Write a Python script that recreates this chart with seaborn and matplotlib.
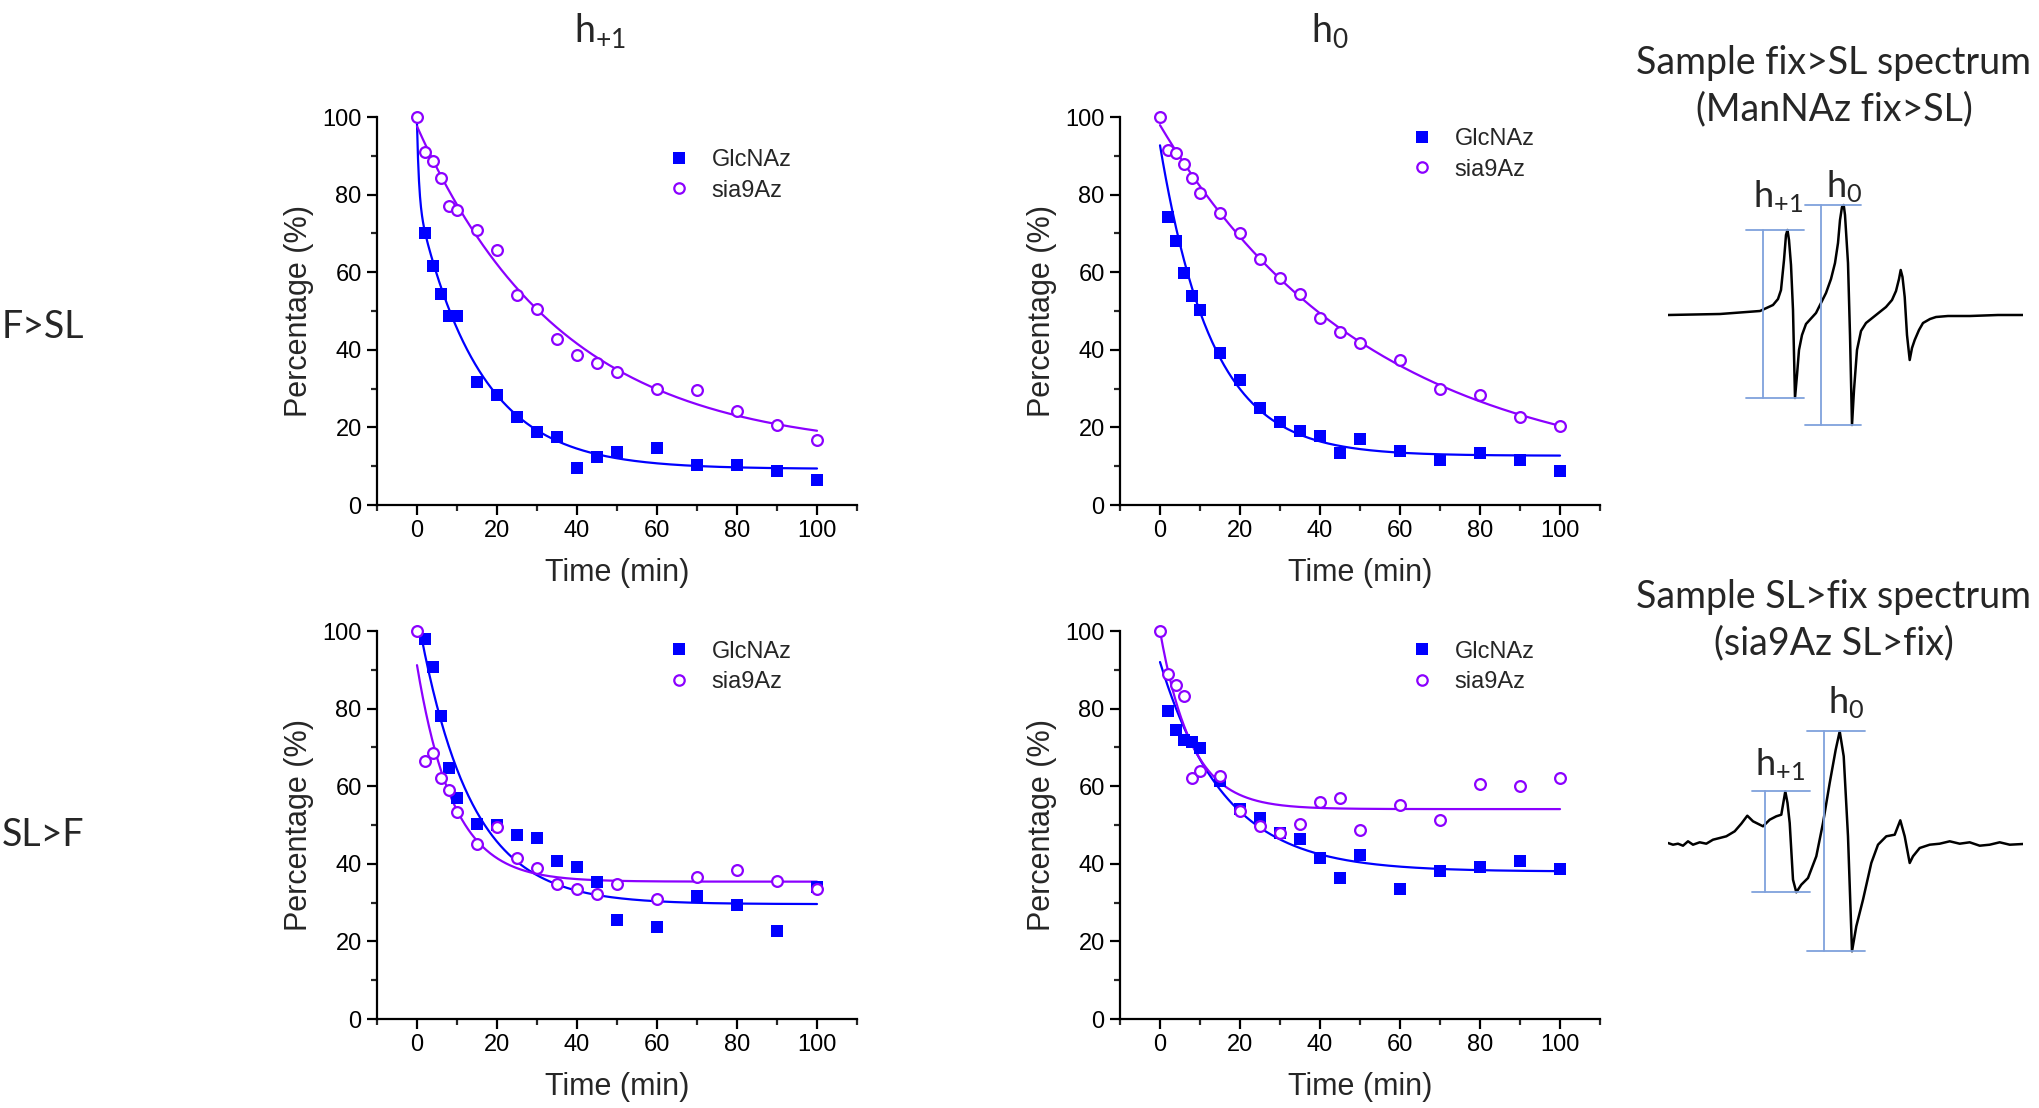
import numpy as np
import matplotlib
matplotlib.use("Agg")
import matplotlib.pyplot as plt
import seaborn as sns
from matplotlib.ticker import MultipleLocator
from matplotlib.lines import Line2D

# ==========================================
# DATA
# ==========================================
t_glc = [2, 4, 6, 8, 10, 15, 20, 25, 30, 35, 40, 45, 50, 60, 70, 80, 90, 100]
t_sia = [0, 2, 4, 6, 8, 10, 15, 20, 25, 30, 35, 40, 45, 50, 60, 70, 80, 90, 100]

# F>SL, h+1
fsl_h1_glc = [70.0, 61.7, 54.4, 48.8, 48.8, 31.8, 28.3, 22.8, 18.8, 17.4, 9.6, 12.4, 13.6, 14.7, 10.4, 10.2, 8.7, 6.5]
fsl_h1_sia = [100, 91.0, 88.7, 84.4, 77.1, 76.1, 70.9, 65.6, 54.0, 50.4, 42.8, 38.6, 36.7, 34.3, 29.8, 29.6, 24.2, 20.6, 16.8]
# F>SL, h0
fsl_h0_glc = [74.3, 68.1, 59.9, 53.8, 50.3, 39.1, 32.1, 25.0, 21.3, 19.0, 17.7, 13.4, 17.0, 13.8, 11.6, 13.4, 11.6, 8.7]
fsl_h0_sia = [100, 91.4, 90.6, 88.0, 84.3, 80.3, 75.2, 70.2, 63.4, 58.5, 54.4, 48.2, 44.5, 41.8, 37.3, 29.9, 28.3, 22.7, 20.3]
# SL>F, h+1
slf_h1_glc = [98.0, 90.6, 78.0, 64.6, 57.0, 50.2, 50.0, 47.4, 46.7, 40.6, 39.3, 35.2, 25.6, 23.8, 31.7, 29.4, 22.6, 34.1]
slf_h1_sia = [100, 66.6, 68.6, 62.0, 59.0, 53.3, 45.2, 49.5, 41.4, 38.9, 34.7, 33.5, 32.2, 34.8, 31.0, 36.7, 38.5, 35.6, 33.4]
# SL>F, h0
slf_h0_glc = [79.5, 74.5, 71.9, 71.4, 69.8, 61.4, 54.1, 51.9, 48.0, 46.3, 41.6, 36.3, 42.3, 33.4, 38.2, 39.1, 40.8, 38.6]
slf_h0_sia = [100, 88.8, 86.0, 83.2, 62.2, 63.9, 62.7, 53.6, 49.7, 48.0, 50.2, 56.0, 56.9, 48.7, 55.1, 51.2, 60.5, 60.1, 62.1]

# exponential decay fits: (plateau, A1, tau1, A2, tau2, start)
fit_fsl_h1_glc = (9.3, 69.0, 15.5, 20.0, 0.5, 0)
fit_fsl_h1_sia = (13.85, 83.75, 36.2, 0.0, 1.0, 0)
fit_fsl_h0_glc = (12.7, 80.0, 13.0, 0.0, 1.0, 0)
fit_fsl_h0_sia = (6.8, 91.1, 52.6, 0.0, 1.0, 0)
fit_slf_h1_glc = (29.6, 75.0, 13.0, 0.0, 1.0, 1)
fit_slf_h1_sia = (35.4, 55.8, 9.0, 0.0, 1.0, 0)
fit_slf_h0_glc = (38.0, 54.0, 16.0, 0.0, 1.0, 0)
fit_slf_h0_sia = (54.1, 45.9, 7.9, 0.0, 1.0, 0)

# sample spectra (field, intensity; arbitrary units)
spec1_x = [0, 52, 92, 105, 110, 113, 116, 118, 119.5, 121, 123, 125, 127, 129, 131, 134, 138,
           148, 158, 163, 167, 170, 172, 174, 175.7, 177, 180, 182, 184, 186, 189, 193, 198,
           208, 218, 224, 228, 231, 232.7, 234.5, 236.7, 239, 241.7, 244, 246.7, 251, 255, 262,
           268, 280, 302, 330, 355]
spec1_y = [0, 1, 4, 10, 16, 25, 55, 80, 85, 75, 50, 5, -83, -60, -35, -20, -9,
           2, 22, 36, 52, 72, 95, 108, 110, 100, 52, -20, -110, -75, -35, -16, -8,
           0, 8, 15, 24, 36, 45, 38, 18, -20, -45, -33, -25, -15, -8, -4,
           -2, -1, -1, 0, 0]

spec2_x = [0, 5, 10, 15, 20, 25, 31.7, 38.3, 45, 51.7, 58.3, 66.7, 73.3, 79.3, 85, 95, 101.7,
           108.3, 113.3, 117.3, 119.5, 121.7, 125, 128.3, 133.3, 140, 148.3, 155, 161.7, 167.7,
           171.7, 175.7, 180, 184, 188.3, 195, 203.3, 210, 218.3, 226.7, 232.3, 236.7, 241.7,
           245, 251.7, 261.7, 271.7, 281.7, 291.7, 301.7, 311.7, 321.7, 331.7, 341.7, 355]
spec2_y = [0, -1.7, -0.7, -2.7, 1.7, -1.7, 0.7, -0.7, 3.3, 5, 6.7, 11.7, 19.3, 27.3, 21.7, 16.7, 23.3,
           26.7, 28.3, 51.7, 40, 20, -36.7, -49.3, -41.7, -35, -13.3, 20, 60, 93.3,
           111.7, 86.7, 6.7, -108.3, -83.3, -56.7, -20, -1.7, 6.7, 8.3, 22.7, 6.7, -20,
           -13.3, -5, -1.7, -0.7, 1.7, -0.7, 0.7, -2.7, -1.7, 0.7, -1.7, -1]

row_labels = ["F>SL", "SL>F"]
col_titles = [r"$\mathrm{h}_{+1}$", r"$\mathrm{h}_{0}$"]
series_labels = ["GlcNAz", "sia9Az"]

panels = [
    [(fsl_h1_glc, fsl_h1_sia, fit_fsl_h1_glc, fit_fsl_h1_sia),
     (fsl_h0_glc, fsl_h0_sia, fit_fsl_h0_glc, fit_fsl_h0_sia)],
    [(slf_h1_glc, slf_h1_sia, fit_slf_h1_glc, fit_slf_h1_sia),
     (slf_h0_glc, slf_h0_sia, fit_slf_h0_glc, fit_slf_h0_sia)],
]

# ==========================================
# STYLE
# ==========================================
sns.set_theme(style="white")
plt.rcParams['font.family'] = ['Liberation Sans', 'DejaVu Sans']
plt.rcParams.update({
    'mathtext.fontset': 'custom',
    'mathtext.rm': 'Lato',
    'mathtext.it': 'Lato:italic',
    'axes.linewidth': 1.6,
})

BLUE = '#0000FF'
PURPLE = '#8B00FF'
BAR = '#7FA1DC'
TITLE_FONT = 'Lato'

W, H = 2040, 1108
fig = plt.figure(figsize=(W / 100, H / 100), dpi=100)


def px_rect(left, top, right, bottom):
    return [left / W, 1 - bottom / H, (right - left) / W, (bottom - top) / H]


def decay(p, x):
    y0, a1, t1, a2, t2, _ = p
    return y0 + a1 * np.exp(-x / t1) + a2 * np.exp(-x / t2)


axes_px = [
    [(377, 117, 857, 505), (1120, 117, 1600, 505)],
    [(377, 631, 857, 1019), (1120, 631, 1600, 1019)],
]
legend_anchor = [[(0.606, 0.918), (0.606, 0.972)], [(0.606, 0.975), (0.606, 0.975)]]

for r in range(2):
    for c in range(2):
        glc, sia, fglc, fsia = panels[r][c]
        ax = fig.add_axes(px_rect(*axes_px[r][c]))
        for p, col in ((fglc, BLUE), (fsia, PURPLE)):
            xs = np.linspace(p[5], 100, 400)
            sns.lineplot(x=xs, y=decay(p, xs), color=col, lw=1.6, ax=ax, zorder=2)
        sns.scatterplot(x=t_glc, y=glc, marker='s', color=BLUE, s=70,
                        linewidth=0, ax=ax, zorder=3)
        ax.scatter(t_sia, sia, marker='o', s=60, facecolors='white',
                   edgecolors=PURPLE, linewidths=1.6, zorder=4, clip_on=False)

        ax.set_xlim(-10, 110)
        ax.set_ylim(0, 100)
        ax.xaxis.set_major_locator(MultipleLocator(20))
        ax.xaxis.set_minor_locator(MultipleLocator(10))
        ax.yaxis.set_major_locator(MultipleLocator(20))
        ax.yaxis.set_minor_locator(MultipleLocator(10))
        ax.tick_params(which='major', direction='out', length=7, width=1.6,
                       labelsize=17, bottom=True, left=True, colors='black', pad=4)
        ax.tick_params(which='minor', direction='out', length=4, width=1.6,
                       bottom=True, left=True)
        for s in ('top', 'right'):
            ax.spines[s].set_visible(False)
        for s in ('left', 'bottom'):
            ax.spines[s].set_color('black')
        ax.set_xlabel('Time (min)', fontsize=22, labelpad=11)
        ax.set_ylabel('Percentage (%)', fontsize=22, labelpad=6)

        handles = [
            Line2D([], [], ls='none', marker='s', color=BLUE, markersize=8, mew=0),
            Line2D([], [], ls='none', marker='o', mfc='white', mec=PURPLE, markersize=7.5, mew=1.6),
        ]
        ax.legend(handles, series_labels, loc='upper left', bbox_to_anchor=legend_anchor[r][c],
                  frameon=False, fontsize=17, handlelength=0.9, handletextpad=0.95,
                  labelspacing=0.37, borderpad=0, borderaxespad=0)

# row and column titles
fig.text(43 / W, 1 - 327 / H, row_labels[0], fontsize=27, family=TITLE_FONT, ha='center', va='center')
fig.text(43 / W, 1 - 835 / H, row_labels[1], fontsize=27, family=TITLE_FONT, ha='center', va='center')
fig.text(600 / W, 1 - 30 / H, col_titles[0], fontsize=27, ha='center', va='center')
fig.text(1330 / W, 1 - 30 / H, col_titles[1], fontsize=27, ha='center', va='center')

# ==========================================
# SAMPLE SPECTRA
# ==========================================
spectra = [
    dict(x=spec1_x, y=spec1_y, base=315, title_y=(63, 109),
         title=("Sample fix>SL spectrum", "(ManNAz fix>SL)"),
         h1=dict(win=(110, 130), vx=95, hx=(78, 136), lab=(110, 118)),
         h0=dict(win=(165, 190), vx=152.7, hx=(137, 193), lab=(176, 128))),
    dict(x=spec2_x, y=spec2_y, base=843, title_y=(597, 643),
         title=("Sample SL>fix spectrum", "(sia9Az SL>fix)"),
         h1=dict(win=(110, 135), vx=97.3, hx=(84, 142), lab=(112, 78)),
         h0=dict(win=(165, 190), vx=155.7, hx=(139, 197), lab=(178, 140))),
]

for sp in spectra:
    b = sp['base']
    ax = fig.add_axes(px_rect(1668, b - 160, 2023, b + 140))
    ax.set_xlim(0, 355)
    ax.set_ylim(-140, 160)
    ax.axis('off')
    sns.lineplot(x=sp['x'], y=sp['y'], sort=False, estimator=None, color='black', lw=1.8, ax=ax)
    xs = np.asarray(sp['x'])
    ys = np.asarray(sp['y'])
    for key, lab in (('h1', col_titles[0]), ('h0', col_titles[1])):
        m = sp[key]
        sel = (xs >= m['win'][0]) & (xs <= m['win'][1])
        top, bot = ys[sel].max(), ys[sel].min()
        ax.plot([m['vx'], m['vx']], [bot, top], color=BAR, lw=1.3)
        ax.plot(m['hx'], [top, top], color=BAR, lw=1.3)
        ax.plot(m['hx'], [bot, bot], color=BAR, lw=1.3)
        ax.text(m['lab'][0], m['lab'][1], lab, fontsize=26, ha='center', va='center')
    fig.text(1834 / W, 1 - sp['title_y'][0] / H, sp['title'][0], fontsize=27,
             family=TITLE_FONT, ha='center', va='center')
    fig.text(1834 / W, 1 - sp['title_y'][1] / H, sp['title'][1], fontsize=27,
             family=TITLE_FONT, ha='center', va='center')

fig.savefig('out.png', dpi=100)
